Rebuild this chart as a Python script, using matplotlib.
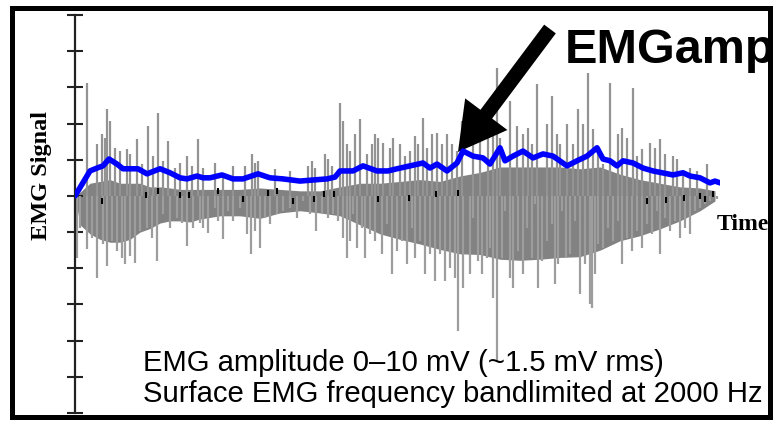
import numpy as np
import matplotlib
matplotlib.use("Agg")
import matplotlib.pyplot as plt
from matplotlib.patches import Rectangle

# ==========================================
# DATA (time in samples, signal in 0.1 tick units)
# ==========================================
# envelope (EMGamp)
env_t = [0, 15, 22, 28, 34, 42, 48, 55, 63, 72, 85, 95, 105, 112, 122, 128, 135, 147,
         158, 168, 183, 195, 208, 225, 238, 252, 260, 265, 278, 288, 302, 313, 322, 335,
         348, 355, 362, 372, 382, 388, 398, 408, 415, 425, 430, 438, 448, 458, 468, 478,
         492, 502, 512, 522, 528, 535, 542, 548, 558, 568, 578, 587, 598, 608, 615, 625,
         635, 640, 645]
env_v = [0, 6.9, 7.7, 8.3, 10.2, 8.8, 7.5, 7.5, 7.5, 6.1, 7.5, 6.4, 5.0, 4.7, 5.5, 5.0, 5.0, 5.8,
         4.7, 4.7, 6.1, 5.0, 4.7, 4.1, 4.4, 4.7, 5.2, 6.9, 6.9, 8.3, 6.9, 6.9, 7.5, 8.3,
         9.1, 7.7, 8.8, 6.9, 9.1, 12.4, 11.0, 10.5, 8.8, 13.3, 9.7, 11.0, 12.4, 10.5, 11.6, 11.0,
         8.3, 9.7, 11.0, 13.3, 10.2, 9.7, 8.3, 9.7, 9.1, 7.7, 6.9, 6.4, 5.8, 6.4, 5.5, 5.0,
         3.6, 4.1, 3.6]

# upward spikes
up_t = [12, 22, 27, 30, 32, 35, 40, 45, 52, 55, 62, 67, 73, 78, 83, 88, 93, 100, 105, 112,
        117, 123, 128, 140, 148, 158, 170, 177, 180, 183, 200, 215, 233, 237, 240, 250, 253,
        257, 265, 268, 272, 275, 280, 285, 292, 297, 300, 303, 308, 315, 318, 325, 330, 335,
        340, 343, 348, 352, 357, 362, 367, 372, 377, 382, 387, 398, 405, 413, 418, 422, 425,
        435, 442, 448, 453, 457, 462, 472, 477, 482, 485, 492, 498, 503, 508, 513, 518, 523,
        528, 535, 543, 547, 552, 558, 562, 567, 575, 580, 585, 590, 598, 602, 608, 615, 622, 632]
up_v = [31.2, 14.4, 17.1, 16.0, 24.0, 20.7, 13.3, 12.4, 13.0, 11.6, 15.7, 8.8, 19.3, 11.0, 22.9,
        9.7, 15.2, 7.7, 9.1, 11.0, 8.3, 15.7, 7.7, 9.1, 6.4, 8.3, 8.3, 11.6, 9.1, 9.7, 7.5, 6.9,
        8.3, 9.7, 7.7, 11.6, 10.2, 8.3, 25.7, 20.7, 14.4, 12.4, 17.1, 21.3, 11.6, 14.4, 17.1,
        16.0, 14.6, 13.3, 16.0, 14.4, 11.0, 12.4, 16.6, 14.4, 21.5, 13.3, 17.1, 17.4, 14.4, 17.1,
        14.4, 12.4, 20.7, 16.0, 18.0, 17.1, 19.3, 35.4, 16.0, 26.2, 19.3, 17.1, 18.8, 14.4, 30.9,
        19.9, 27.6, 17.1, 14.4, 19.9, 14.4, 24.0, 19.9, 34.0, 18.5, 12.4, 8.8, 31.2, 17.1, 18.8,
        16.0, 29.8, 11.0, 13.0, 14.6, 13.3, 15.7, 11.6, 11.0, 10.2, 6.4, 7.7, 6.9, 8.8]

# downward spikes
dn_t = [2, 5, 12, 17, 22, 28, 32, 37, 42, 47, 50, 55, 60, 65, 72, 77, 82, 88, 95, 102, 107,
        112, 118, 125, 128, 133, 140, 143, 148, 153, 158, 165, 172, 176, 180, 185, 190, 195,
        202, 208, 215, 222, 228, 235, 241, 247, 253, 258, 263, 268, 272, 275, 278, 282, 287,
        290, 295, 300, 307, 312, 317, 322, 327, 332, 337, 340, 345, 350, 355, 360, 365, 370,
        375, 380, 383, 388, 395, 398, 403, 407, 412, 415, 418, 422, 427, 430, 435, 438, 443,
        448, 452, 457, 460, 463, 467, 472, 477, 480, 483, 487, 491, 495, 500, 505, 510, 515,
        517, 520, 523, 528, 533, 538, 543, 547, 552, 557, 562, 567, 572, 577, 582, 585, 590,
        595, 600, 605, 610, 615, 620, 625, 630, 635, 642]
dn_v = [-17.1, -8.8, -14.6, -11.6, -22.7, -13.3, -19.3, -12.4, -15.2, -17.1, -18.8, -16.6,
        -18.5, -9.7, -8.8, -11.6, -18.0, -5.0, -8.8, -6.1, -7.5, -13.8, -8.8, -7.5, -8.8,
        -10.2, -3.3, -6.9, -11.9, -4.1, -6.9, -3.3, -10.5, -16.0, -9.7, -14.4, -6.1, -7.7,
        -5.0, -4.1, -3.3, -6.1, -1.4, -5.0, -9.7, -5.0, -6.1, -5.0, -6.9, -11.6, -17.1, -12.4,
        -5.0, -14.4, -8.8, -17.1, -10.5, -12.4, -16.0, -7.7, -21.5, -15.2, -12.4, -18.8, -8.8,
        -17.1, -12.4, -21.5, -16.0, -23.5, -16.0, -23.5, -19.9, -22.7, -37.3, -25.4, -21.5,
        -6.1, -18.0, -21.5, -17.1, -14.4, -28.2, -45.6, -17.1, -4.1, -22.7, -25.4, -15.2,
        -21.5, -8.8, -17.1, -2.2, -25.4, -18.0, -12.4, -7.7, -24.3, -18.8, -4.1, -17.1, -16.0,
        -6.9, -27.1, -18.8, -29.8, -30.9, -21.5, -13.3, -14.4, -8.8, -12.4, -6.9, -18.8, -11.6,
        -15.2, -9.7, -14.4, -7.7, -10.5, -4.1, -16.0, -6.1, -9.7, -6.9, -11.6, -8.8, -10.5,
        -4.1, -3.3, -2.2, -1.4, -0.8]

# dense signal body
body_t = [0, 5, 15, 25, 35, 45, 55, 65, 75, 85, 95, 105, 115, 125, 145, 165, 185, 205, 225,
          245, 265, 285, 305, 325, 345, 365, 385, 405, 425, 445, 465, 485, 505, 525, 545, 565,
          585, 605, 625, 640]
body_lo = [0, -8.0, -10.5, -12.0, -12.8, -12.8, -12.0, -10.0, -9.0, -7.5, -6.9, -6.9, -7.2,
           -6.4, -5.5, -5.5, -6.2, -4.7, -4.1, -4.7, -5.5, -8.0, -10.5, -12.0, -13.3, -14.8,
           -16.0, -16.2, -17.5, -17.8, -17.5, -17.0, -16.8, -15.0, -12.4, -11.0, -9.1, -6.9,
           -4.1, -1.4]
body_hi = [0, 1.0, 3.5, 4.0, 4.5, 3.5, 3.5, 3.5, 2.5, 2.5, 2.2, 1.8, 1.8, 1.8, 1.8, 1.8, 2.2,
           1.8, 1.4, 1.4, 2.5, 3.5, 3.5, 4.0, 4.5, 4.0, 5.5, 6.5, 8.0, 8.0, 8.0, 8.0, 7.5, 8.0,
           6.0, 4.5, 3.5, 2.5, 2.2, 1.4]

# small black artefact dashes near baseline
mark_t = [27, 71, 83, 105, 114, 143, 168, 193, 202, 218, 239, 249, 259, 303, 334, 361, 383,
          572, 591, 609, 625, 630, 638]
mark_v = [-1.4, 0.3, 1.4, 0.3, 0.3, 1.4, -0.8, 0.8, 1.4, -1.4, -0.8, 0.6, 0.6, -0.8, -0.6,
          0.6, 0.8, -1.4, -1.1, -0.6, 0.0, -0.8, 0.6]

y_ticks = np.arange(-60, 51, 10)

# ==========================================
# FIGURE
# ==========================================
W, H = 778, 422
fig = plt.figure(figsize=(W / 100, H / 100), dpi=100)
ax = fig.add_axes([75 / W, (H - 413) / H, 645 / W, 398 / H])

ax.fill_between(body_t, body_lo, body_hi, color='#828282', lw=0, zorder=1)
ax.vlines(up_t, 0, up_v, color='#939393', lw=1.6, zorder=2)
ax.vlines(dn_t, 0, dn_v, color='#9d9d9d', lw=1.6, zorder=2)
ax.plot(mark_t, mark_v, ls='none', marker='|', ms=4, mew=1.5, color='black', zorder=3)
ax.plot(env_t, env_v, color='#0000ff', lw=4, solid_capstyle='round',
        solid_joinstyle='round', zorder=4)

ax.set_xlim(0, 645)
ax.set_ylim(-60, 50)
ax.set_yticks(y_ticks)
ax.set_yticklabels([])
ax.set_xticks([])
for s in ['top', 'right', 'bottom']:
    ax.spines[s].set_visible(False)
ax.spines['left'].set_linewidth(1.6)
ax.spines['left'].set_color('#222222')
ax.tick_params(axis='y', direction='inout', length=12, width=1.5, color='#222222')
ax.patch.set_alpha(0)

# outer frame
fig.add_artist(Rectangle((12 / W, 1 - 417 / H), 758 / W, (417 - 7.5) / H,
                         transform=fig.transFigure, fill=False, lw=3.6, ec='black', zorder=1))

# arrow to envelope
ax.annotate('', xy=(458, H - 152), xycoords='figure pixels',
            xytext=(550, H - 29), textcoords='figure pixels',
            arrowprops=dict(arrowstyle='simple,head_length=3.4,head_width=3.8,tail_width=1.05',
                            mutation_scale=10, fc='black', ec='black', lw=0,
                            shrinkA=0, shrinkB=0),
            annotation_clip=False)

fig.text(565 / W, 1 - 63 / H, 'EMGamp', fontsize=35, fontweight='bold',
         family='Liberation Sans', ha='left', va='baseline', zorder=5)
fig.text(42 / W, 1 - 175 / H, 'EMG Signal', fontsize=17.5, fontweight='bold',
         family='Liberation Serif', rotation=90, ha='center', va='center')
fig.text(717 / W, 1 - 225 / H, 'Time', fontsize=17, fontweight='bold',
         family='Liberation Serif', ha='left', va='center')
fig.text(143 / W, 1 - 371 / H, 'EMG amplitude 0\u201310 mV (~1.5 mV rms)', fontsize=21.1,
         family='Liberation Sans', ha='left', va='baseline')
fig.text(143 / W, 1 - 402 / H, 'Surface EMG frequency bandlimited at 2000 Hz', fontsize=21.1,
         family='Liberation Sans', ha='left', va='baseline')

fig.savefig('out.png', dpi=100)
